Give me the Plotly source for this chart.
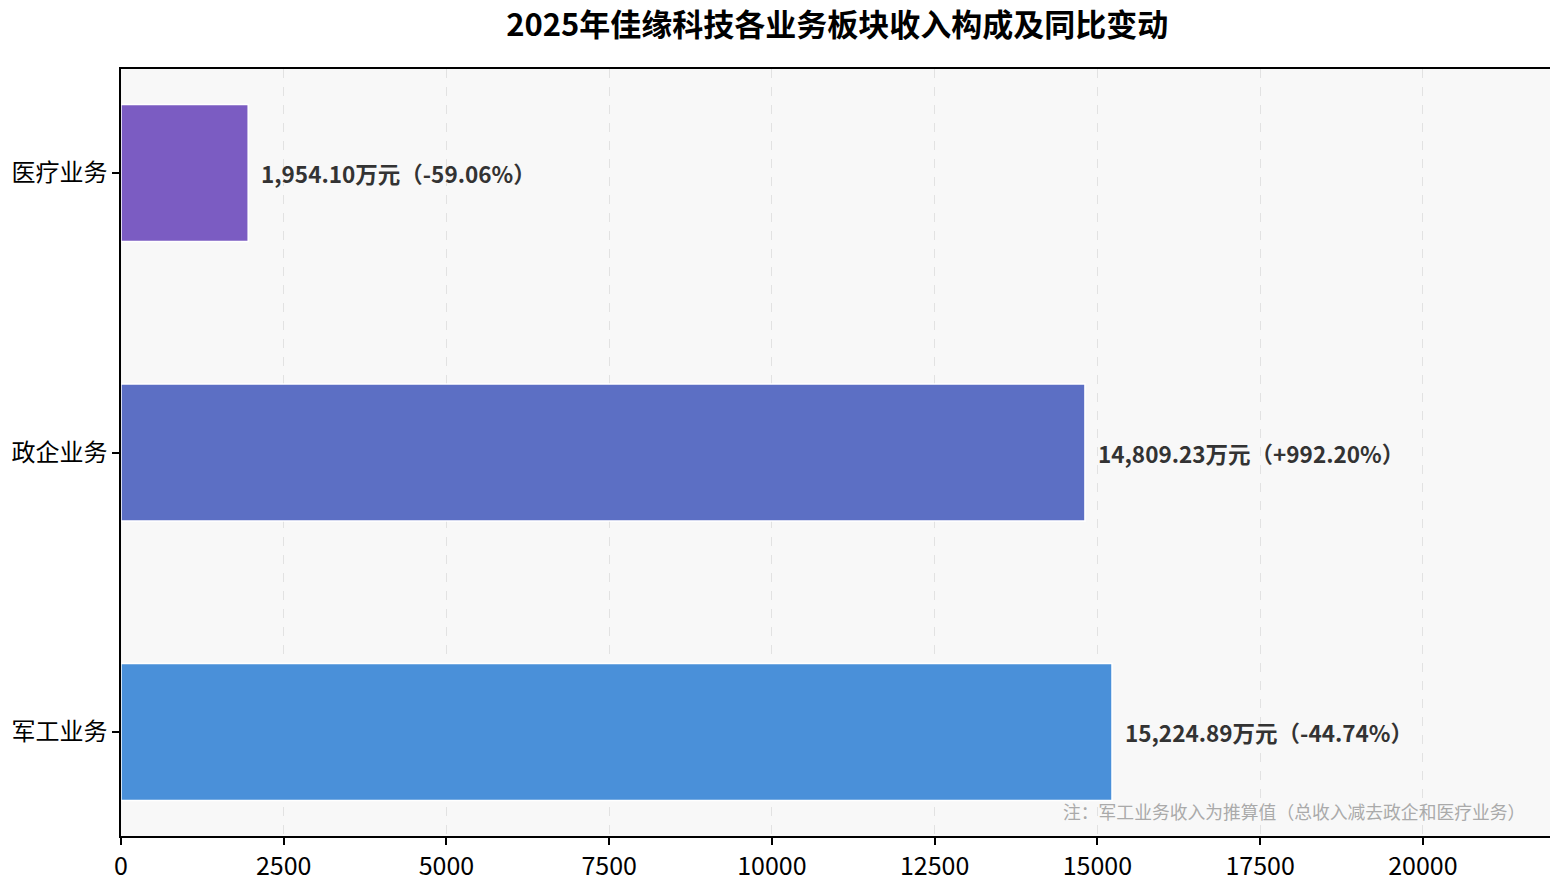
import plotly.graph_objects as go

# data (bottom to top)
segments = ["军工业务", "政企业务", "医疗业务"]
revenue = [15224.89, 14809.23, 1954.10]      # 万元
yoy_change = [-44.74, 992.20, -59.06]        # %
bar_colors = ["#4A90D9", "#5C6FC4", "#7B5CC2"]
x_ticks = [0, 2500, 5000, 7500, 10000, 12500, 15000, 17500, 20000]

title_text = "2025年佳缘科技各业务板块收入构成及同比变动"
note_text = "注：军工业务收入为推算值（总收入减去政企和医疗业务）"

font_cn = "Microsoft YaHei, Noto Sans CJK SC, sans-serif"

fig = go.Figure()

fig.add_trace(go.Bar(
    x=revenue,
    y=segments,
    orientation="h",
    width=0.49,
    marker=dict(color=bar_colors, line=dict(color="white", width=1.5)),
    hoverinfo="skip",
))

# value labels to the right of each bar
for seg, val, chg in zip(segments, revenue, yoy_change):
    fig.add_annotation(
        x=val, y=seg,
        text=f"<b>{val:,.2f}万元（{chg:+.2f}%）</b>",
        showarrow=False,
        xanchor="left", yanchor="middle",
        xshift=11,
        font=dict(family=font_cn, size=22.5, color="#333333"),
    )

# footnote
fig.add_annotation(
    x=0.9735, y=0.013, xref="paper", yref="paper",
    xshift=12,
    text=note_text,
    showarrow=False,
    xanchor="right", yanchor="bottom",
    font=dict(family=font_cn, size=17.8, color="#AAAAAA"),
)

# page body has an 8px margin, so the figure is sized to end at the window edge
fig.update_layout(
    width=1550,
    height=869,
    margin=dict(l=113, r=5, t=61, b=41),
    paper_bgcolor="white",
    plot_bgcolor="#F8F8F8",
    showlegend=False,
    font=dict(family=font_cn, color="black"),
    title=dict(
        text=f"<b>{title_text}</b>",
        x=0.535, xanchor="center",
        y=0.980, yanchor="middle",
        font=dict(family=font_cn, size=31, color="black"),
    ),
    xaxis=dict(
        range=[0, 22000],
        tickvals=x_ticks,
        ticktext=[str(t) for t in x_ticks],
        ticks="outside", ticklen=7, tickwidth=1.5, tickcolor="black",
        tickfont=dict(size=25, color="black"),
        showgrid=True, gridcolor="#E2E2E2", griddash="dash", gridwidth=1,
        showline=True, linecolor="black", linewidth=1.5, mirror=True,
        zeroline=False,
        automargin=False,
    ),
    yaxis=dict(
        range=[-0.372, 2.372],
        ticks="outside", ticklen=7, tickwidth=1.5, tickcolor="black",
        tickfont=dict(size=24, color="black"),
        showgrid=False,
        showline=True, linecolor="black", linewidth=1.5, mirror=True,
        automargin=False,
    ),
)

fig.write_html("out.html")
